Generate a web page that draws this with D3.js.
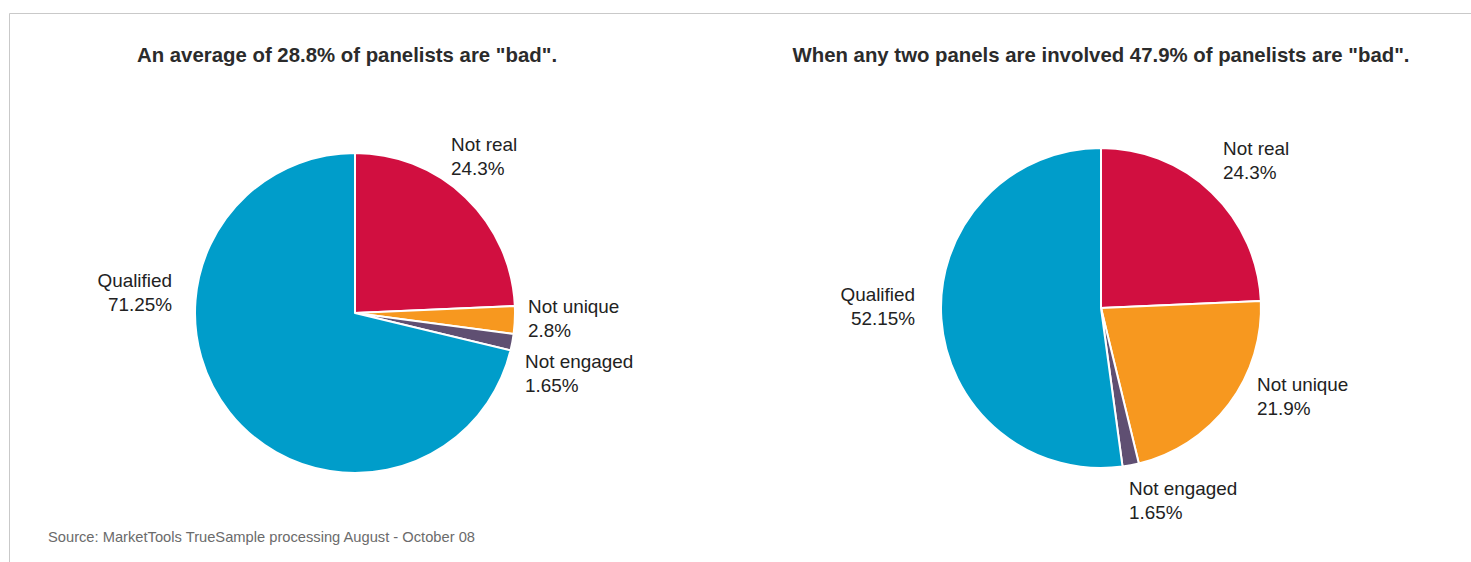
<!DOCTYPE html>
<html>
<head>
<meta charset="utf-8">
<script src="https://cdn.jsdelivr.net/npm/d3@7"></script>
<style>
  body { margin: 0; background: #fff; }
  svg { display: block; font-family: "Liberation Sans", Arial, Helvetica, sans-serif; }
</style>
</head>
<body>
<div id="chart"></div>
<script>
// slice names, clockwise from 12 o'clock
const categories = ["Not real", "Not unique", "Not engaged", "Qualified"];
const colors = ["#d10f40", "#f7981f", "#5f4f72", "#009dca"];

// share of panelists, %
const averageValues = [24.3, 2.8, 1.65, 71.25];
const twoPanelValues = [24.3, 21.9, 1.65, 52.15];
const valueLabels1 = ["24.3%", "2.8%", "1.65%", "71.25%"];
const valueLabels2 = ["24.3%", "21.9%", "1.65%", "52.15%"];

const titles = [
  "An average of 28.8% of panelists are \"bad\".",
  "When any two panels are involved 47.9% of panelists are \"bad\"."
];
const sourceNote = "Source: MarketTools TrueSample processing August - October 08";

const width = 1471, height = 562;
const radius = 160;
const stretch = 1.05; // the original Helvetica sets a bit wider than Liberation

const svg = d3.select("#chart").append("svg")
  .attr("width", width)
  .attr("height", height);

// frame lines (top + left)
svg.append("path")
  .attr("d", `M9.5,${height} V13.5 H${width}`)
  .attr("fill", "none")
  .attr("stroke", "#c9c9c9")
  .attr("stroke-width", 1);

// label placement relative to pie centre (Excel "best fit" style)
const pies = [
  { cx: 355, cy: 313, titleX: 347, values: averageValues, labels: valueLabels1,
    spots: [[96, -156, "start"], [173, 6, "start"], [170, 61, "start"], [-183, -20, "end"]] },
  { cx: 1101, cy: 308, titleX: 1101, values: twoPanelValues, labels: valueLabels2,
    spots: [[122, -147, "start"], [156, 89, "start"], [28, 193, "start"], [-186, -1, "end"]] }
];

const pie = d3.pie().sort(null).value(d => d.value);
const arc = d3.arc().innerRadius(0).outerRadius(radius);

pies.forEach(function(p, pi) {
  svg.append("text")
    .attr("transform", `translate(${p.titleX},62) scale(1.045,1)`)
    .attr("text-anchor", "middle")
    .attr("font-size", "19.5px")
    .attr("font-weight", "bold")
    .attr("fill", "#2b2b2b")
    .text(titles[pi]);

  const data = categories.map((c, i) => ({ name: c, value: p.values[i], label: p.labels[i], color: colors[i], spot: p.spots[i] }));
  const g = svg.append("g").attr("transform", `translate(${p.cx},${p.cy})`);

  g.selectAll("path.slice")
    .data(pie(data))
    .enter()
    .append("path")
    .attr("class", "slice")
    .attr("d", arc)
    .attr("fill", d => d.data.color)
    .attr("stroke", "#fff")
    .attr("stroke-width", 2)
    .attr("stroke-linejoin", "round");

  const lbl = g.selectAll("text.lbl")
    .data(data)
    .enter()
    .append("text")
    .attr("class", "lbl")
    .attr("transform", d => `translate(${d.spot[0]},${d.spot[1]}) scale(${stretch},1)`)
    .attr("text-anchor", d => d.spot[2])
    .attr("font-size", "18px")
    .attr("fill", "#222");
  lbl.append("tspan")
    .attr("x", 0)
    .attr("y", -6)
    .text(d => d.name);
  lbl.append("tspan")
    .attr("x", 0)
    .attr("y", 18)
    .text(d => d.label);
});

svg.append("text")
  .attr("transform", `translate(48,542) scale(${stretch},1)`)
  .attr("font-size", "14px")
  .attr("fill", "#6b6b6b")
  .text(sourceNote);
</script>
</body>
</html>
